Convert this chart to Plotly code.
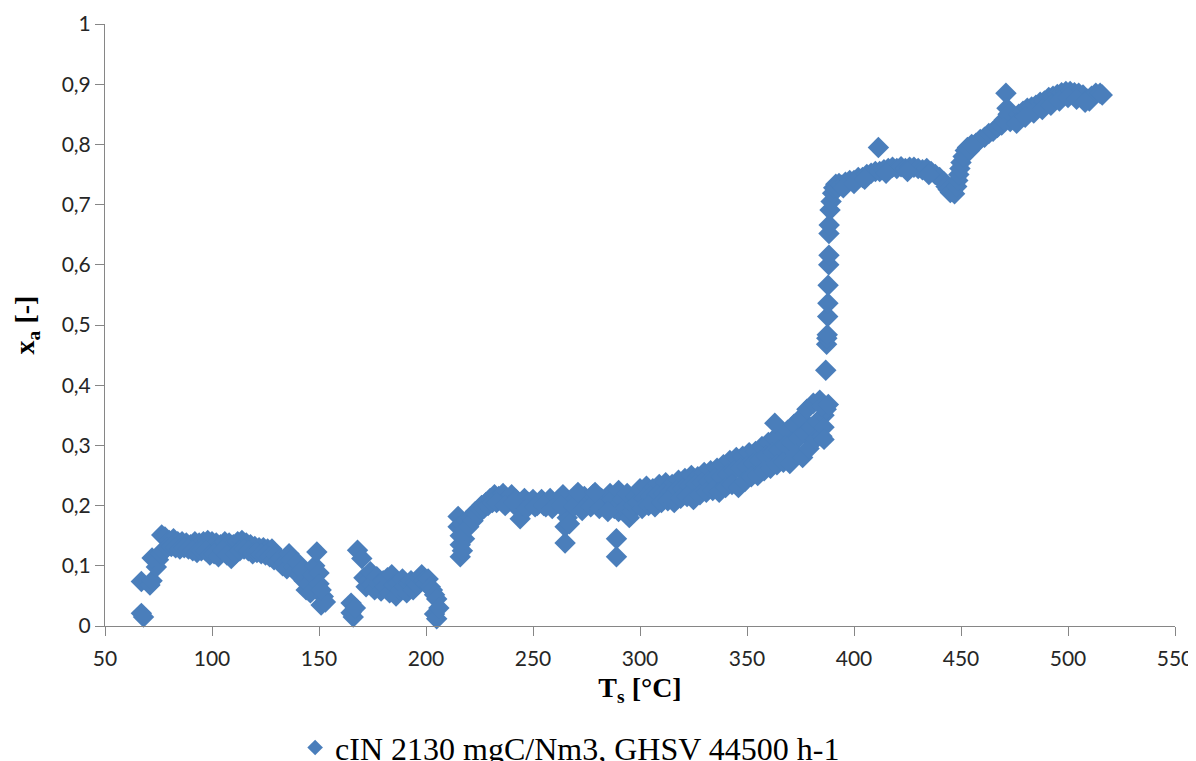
import plotly.graph_objects as go

# ---- data (T_s in °C, x_a in -) ----
# low-temperature region (66-154 °C)
ts_low = [67, 67, 68, 71, 72, 74, 72, 75, 76, 76.5, 77,
          78, 80, 82, 84, 86, 88, 90, 92, 94, 96, 98, 100, 102, 104, 106, 108, 110, 112,
          114, 116, 118, 120, 122, 124, 126, 128,
          79, 81, 83, 85, 87, 89, 91, 93, 95, 97, 99, 101, 103, 105, 107, 109, 111, 113,
          115, 117, 119, 121, 123, 125, 127, 129,
          130, 131, 132, 133, 134, 135, 136, 137, 138, 139, 140, 141, 142, 143, 144, 145,
          146, 147, 148, 149, 150, 150, 151, 152, 153, 151]
xa_low = [0.021, 0.074, 0.015, 0.068, 0.075, 0.098, 0.113, 0.11, 0.12, 0.151, 0.125,
          0.148, 0.142, 0.145, 0.14, 0.14, 0.138, 0.135, 0.14, 0.138, 0.14, 0.142, 0.14, 0.138,
          0.135, 0.14, 0.138, 0.135, 0.14, 0.142, 0.138, 0.135, 0.132, 0.13, 0.13, 0.128, 0.128,
          0.13, 0.132, 0.13, 0.128, 0.13, 0.128, 0.125, 0.122, 0.125, 0.125, 0.118, 0.12, 0.115,
          0.125, 0.118, 0.112, 0.12, 0.125, 0.128, 0.125, 0.12, 0.122, 0.12, 0.118, 0.115, 0.11,
          0.118, 0.108, 0.112, 0.1, 0.105, 0.095, 0.12, 0.11, 0.098, 0.09, 0.105, 0.085, 0.093,
          0.075, 0.06, 0.07, 0.055, 0.085, 0.1, 0.123, 0.088, 0.07, 0.035, 0.049, 0.04, 0.06]

# dip region (165-206 °C)
ts_mid = [165, 165, 166, 167, 168, 170, 171, 172, 173, 174, 175, 176, 177, 178, 179, 180,
          181, 182, 183, 184, 185, 186, 187, 188, 189, 190, 191, 192, 193, 194, 195, 196,
          197, 198, 199, 200, 201, 202, 203, 204, 205, 204, 205, 206]
xa_mid = [0.038, 0.022, 0.015, 0.03, 0.126, 0.112, 0.08, 0.065, 0.075, 0.09, 0.07, 0.06,
          0.082, 0.07, 0.058, 0.075, 0.065, 0.08, 0.055, 0.085, 0.068, 0.05, 0.072, 0.06,
          0.078, 0.065, 0.055, 0.07, 0.075, 0.06, 0.072, 0.068, 0.08, 0.085, 0.075, 0.07,
          0.078, 0.065, 0.06, 0.052, 0.045, 0.02, 0.012, 0.03]

# plateau region (214-300 °C)
ts_plat = [215, 215, 216, 216, 216, 217, 217, 218, 218, 219, 220, 221, 222, 223, 224, 225,
           226, 227, 228, 229, 230, 231, 232, 234, 236, 238, 240, 242, 243, 244, 245, 246,
           248, 250, 252, 254, 256, 258, 260, 262, 264, 265, 265, 266, 266, 267, 268, 270,
           272, 274, 276, 278, 280, 282, 284, 286, 287, 288, 289, 289, 290, 290, 291, 292,
           293, 294, 295, 296, 297, 298, 299,
           233, 237, 241, 247, 251, 255, 259, 263, 269, 273, 277, 281, 285, 271, 279]
xa_plat = [0.182, 0.165, 0.15, 0.135, 0.115, 0.125, 0.17, 0.145, 0.16, 0.175, 0.165, 0.18,
           0.175, 0.19, 0.185, 0.195, 0.2, 0.195, 0.205, 0.2, 0.212, 0.205, 0.218, 0.215,
           0.22, 0.212, 0.218, 0.21, 0.195, 0.178, 0.2, 0.212, 0.205, 0.21, 0.2, 0.21, 0.198,
           0.212, 0.2, 0.21, 0.218, 0.138, 0.165, 0.18, 0.195, 0.17, 0.205, 0.212, 0.2, 0.215,
           0.205, 0.218, 0.205, 0.212, 0.2, 0.22, 0.21, 0.195, 0.145, 0.115, 0.19, 0.225, 0.205,
           0.21, 0.195, 0.22, 0.18, 0.19, 0.2, 0.215, 0.205,
           0.205, 0.2, 0.205, 0.195, 0.198, 0.2, 0.195, 0.2, 0.198, 0.192, 0.198, 0.195, 0.19,
           0.222, 0.222]

# rising band (300-386 °C): upper, middle and lower rows
ts_rise = [300, 303, 306, 309, 312, 315, 318, 321, 324, 327, 330, 333, 336, 339, 342, 345,
           348, 351, 354, 357, 360, 363, 366, 369, 372, 375, 378, 381, 384,
           302, 305, 308, 311, 314, 317, 320, 323, 326, 329, 332, 335, 338, 341, 344, 347,
           350, 353, 356, 359, 362, 365, 368, 371, 374, 377, 380, 383, 386,
           301, 304, 307, 310, 313, 316, 319, 322, 325, 328, 331, 334, 337, 340, 343, 346,
           349, 352, 355, 358, 361, 364, 367, 370, 373, 376, 379, 382, 385,
           363, 386, 387, 385, 386, 388]
xa_rise = [0.228, 0.232, 0.228, 0.235, 0.238, 0.235, 0.242, 0.245, 0.25, 0.248, 0.255, 0.258,
           0.262, 0.268, 0.275, 0.28, 0.282, 0.288, 0.29, 0.298, 0.305, 0.312, 0.318, 0.325,
           0.335, 0.345, 0.36, 0.37, 0.375,
           0.212, 0.215, 0.218, 0.22, 0.222, 0.225, 0.228, 0.232, 0.235, 0.238, 0.24, 0.245,
           0.248, 0.252, 0.258, 0.262, 0.265, 0.27, 0.275, 0.282, 0.288, 0.292, 0.3, 0.305,
           0.312, 0.32, 0.33, 0.34, 0.35,
           0.195, 0.2, 0.198, 0.205, 0.208, 0.205, 0.212, 0.215, 0.21, 0.218, 0.222, 0.225,
           0.222, 0.23, 0.235, 0.23, 0.24, 0.248, 0.25, 0.258, 0.262, 0.268, 0.272, 0.27,
           0.285, 0.28, 0.295, 0.31, 0.315,
           0.337, 0.33, 0.36, 0.365, 0.31, 0.368]

# light-off jump (386-392 °C)
ts_jump = [386.8, 387.2, 387.3, 387.5, 387.7, 387.8, 387.9, 388.2, 388.3, 388.3, 388.4,
           388.8, 389.3, 390, 390.5, 391.5]
xa_jump = [0.425, 0.468, 0.478, 0.484, 0.514, 0.536, 0.566, 0.6, 0.616, 0.652, 0.666,
           0.691, 0.705, 0.719, 0.728, 0.734]

# high-temperature region (392-517 °C)
ts_high = [392, 393, 394, 396, 398, 400, 402, 404, 406, 408, 410, 411.4, 412, 414, 416, 418,
           420, 422, 424, 426, 428, 430, 432, 434, 436, 438, 440, 442, 443, 444, 445, 446,
           447, 448, 448.5, 449, 449.5, 450, 451, 452, 453, 454, 455, 457, 459, 461, 463,
           465, 467, 469, 470, 471, 471.5, 472, 473, 475, 477, 479, 481, 483, 485, 487, 489,
           491, 493, 495, 497, 499, 501, 503, 505, 507, 509, 510, 511, 513, 515, 516,
           476, 480, 484, 488, 492, 496, 500, 504, 508,
           395, 400, 405, 415, 425, 435]
xa_high = [0.728, 0.735, 0.732, 0.737, 0.74, 0.74, 0.745, 0.745, 0.75, 0.752, 0.755, 0.795,
           0.755, 0.758, 0.76, 0.762, 0.76, 0.763, 0.76, 0.762, 0.762, 0.76, 0.758, 0.76,
           0.755, 0.75, 0.745, 0.738, 0.73, 0.725, 0.72, 0.722, 0.718, 0.73, 0.74, 0.75,
           0.76, 0.77, 0.78, 0.79, 0.795, 0.79, 0.8, 0.802, 0.808, 0.812, 0.818, 0.822,
           0.828, 0.832, 0.84, 0.885, 0.86, 0.85, 0.838, 0.845, 0.85, 0.855, 0.86, 0.862,
           0.865, 0.87, 0.872, 0.878, 0.88, 0.883, 0.886, 0.888, 0.888, 0.886, 0.885, 0.882,
           0.875, 0.872, 0.88, 0.885, 0.885, 0.882,
           0.835, 0.845, 0.852, 0.858, 0.865, 0.872, 0.878, 0.875, 0.87,
           0.728, 0.735, 0.742, 0.752, 0.755, 0.75]

x_ticks = [50, 100, 150, 200, 250, 300, 350, 400, 450, 500, 550]
y_ticks = [0, 0.1, 0.2, 0.3, 0.4, 0.5, 0.6, 0.7, 0.8, 0.9, 1]

series_name = "cIN 2130 mgC/Nm3, GHSV 44500 h-1"

ts = ts_low + ts_mid + ts_plat + ts_rise + ts_jump + ts_high
xa = xa_low + xa_mid + xa_plat + xa_rise + xa_jump + xa_high

MARKER = "#4A7EBB"
AXIS = "#868686"
SERIF = "Liberation Serif, Times New Roman, serif"
TICKFONT = dict(family="Lato", size=21, color="#262626")
TITLEFONT = dict(family=SERIF, size=28, color="#000000")

fig = go.Figure()
fig.add_trace(go.Scatter(
    x=ts, y=xa, mode="markers", name=series_name,
    marker=dict(symbol="diamond", size=16.5, color=MARKER, line=dict(width=0)),
    cliponaxis=False,
))

# the page places the figure 8 px from the window's top-left corner
fig.update_layout(
    width=1196, height=761,
    margin=dict(l=97, r=29, t=16, b=143, autoexpand=False),
    paper_bgcolor="white", plot_bgcolor="white",
    separators=", ",
    showlegend=True,
    legend=dict(orientation="h", x=0.47, xanchor="center", xref="container",
                y=0.028, yanchor="middle", yref="container",
                font=dict(family=SERIF, size=32, color="#000000"),
                itemsizing="constant", bgcolor="rgba(0,0,0,0)"),
    xaxis=dict(
        range=[50, 550], tickvals=x_ticks, showgrid=False, zeroline=False,
        showline=True, linecolor=AXIS, linewidth=1, ticks="outside", ticklen=9,
        tickcolor=AXIS, tickfont=TICKFONT, automargin=False, ticklabelstandoff=5,
        title=dict(text="<b>T<sub>s</sub> [°C]</b>", font=TITLEFONT, standoff=8),
    ),
    yaxis=dict(
        range=[0, 1], tickvals=y_ticks, showgrid=False, zeroline=False,
        showline=True, linecolor=AXIS, linewidth=1, ticks="outside", ticklen=9,
        tickcolor=AXIS, tickfont=TICKFONT, automargin=False,
        title=dict(text="<b>x<sub>a</sub> [-]</b>", font=TITLEFONT, standoff=18),
    ),
)

fig.write_html("out.html")
